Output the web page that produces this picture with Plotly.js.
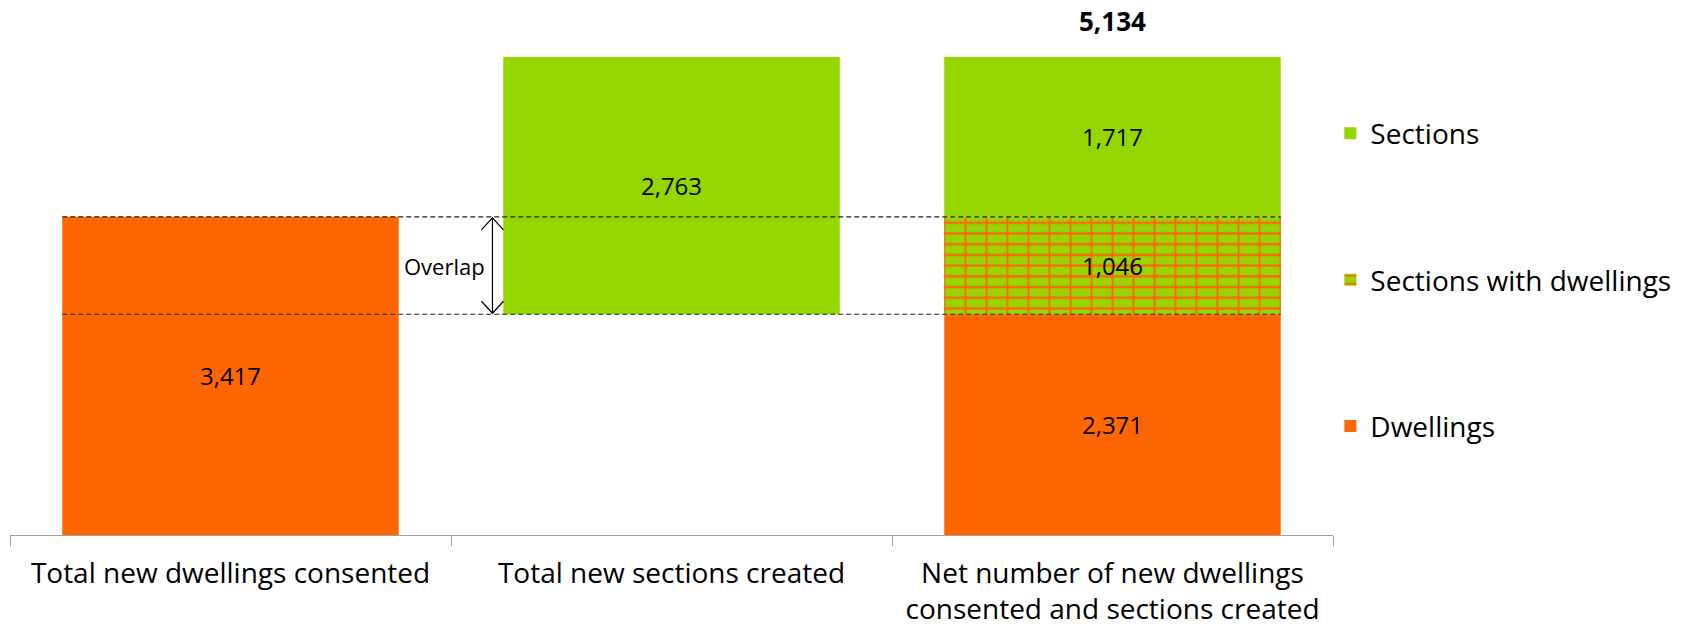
<!DOCTYPE html>
<html>
<head>
<meta charset="utf-8">
<script src="https://cdn.plot.ly/plotly-3.0.1.min.js"></script>
<style>
  html, body { margin: 0; padding: 0; background: #fff; }
  #chart { width: 1687px; height: 627px; }
</style>
</head>
<body>
<div id="chart"></div>
<script>
// ---- data ----
const categories = [
  'Total new dwellings consented',
  'Total new sections created',
  'Net number of new dwellings<br>consented and sections created'
];
const totalDwellings = 3417;
const totalSections = 2763;
const overlap = 1046;
const netDwellings = totalDwellings - overlap;   // 2,371
const netSections = totalSections - overlap;     // 1,717
const netTotal = netDwellings + overlap + netSections; // 5,134

const dwellingsVals = [totalDwellings, null, netDwellings];
const dwellingsBase = [0, null, 0];
const overlapVals = [null, null, overlap];
const overlapBase = [null, null, netDwellings];
const sectionsVals = [null, totalSections, netSections];
const sectionsBase = [null, netDwellings, netDwellings + overlap];

const seriesNames = ['Dwellings', 'Sections with dwellings', 'Sections'];

// ---- style ----
const ORANGE = '#FF6600';
const GREEN = '#96D600';
const FONT = '"Open Sans", Lato, sans-serif';
const half = (1 - 0.237) / 2;
const arrowX = 0.594;

const textStyle = { family: FONT, size: 24, color: '#000' };

const traces = [
  {
    type: 'bar', name: seriesNames[0], x: categories, y: dwellingsVals, base: dwellingsBase,
    marker: { color: ORANGE, line: { width: 0 } },
    texttemplate: '%{y:,}', textposition: 'inside', insidetextanchor: 'middle',
    textfont: textStyle, legendgroup: 'g1', legendrank: 3, hoverinfo: 'skip'
  },
  {
    type: 'bar', name: seriesNames[1], x: categories, y: overlapVals, base: overlapBase,
    marker: { color: GREEN, line: { width: 0 },
      pattern: { shape: '-', fgcolor: ORANGE, bgcolor: GREEN, size: 10.7, solidity: 0.22 } },
    legendgroup: 'g2', legendrank: 2, hoverinfo: 'skip'
  },
  {
    // vertical joints of the brick pattern (same segment, drawn over the rows)
    type: 'bar', name: seriesNames[1], x: categories, y: overlapVals, base: overlapBase,
    marker: { color: 'rgba(0,0,0,0)', line: { width: 0 },
      pattern: { shape: '|', fgcolor: ORANGE, bgcolor: 'rgba(0,0,0,0)', size: 21, solidity: 0.09 } },
    texttemplate: '%{y:,}', textposition: 'inside', insidetextanchor: 'middle',
    textfont: textStyle, legendgroup: 'g2', showlegend: false, hoverinfo: 'skip'
  },
  {
    type: 'bar', name: seriesNames[2], x: categories, y: sectionsVals, base: sectionsBase,
    marker: { color: GREEN, line: { width: 0 } },
    texttemplate: '%{y:,}', textposition: 'inside', insidetextanchor: 'middle',
    textfont: textStyle, legendgroup: 'g3', legendrank: 1, hoverinfo: 'skip'
  }
];

const dash = { color: '#222222', width: 1.2, dash: '5px,3px' };
const arrowLine = { color: '#000', width: 1.2 };

const layout = {
  width: 1687, height: 627,
  margin: { l: 10, r: 354, t: 57, b: 92 },
  paper_bgcolor: '#fff', plot_bgcolor: '#fff',
  barmode: 'overlay', bargap: 0.237,
  showlegend: true,
  legend: {
    x: 0.998, xanchor: 'left', y: 0.892, yanchor: 'top',
    traceorder: 'grouped', tracegroupgap: 107,
    font: { family: FONT, size: 28, color: '#000' },
    bgcolor: 'rgba(0,0,0,0)'
  },
  font: { family: FONT, color: '#000' },
  xaxis: {
    type: 'category',
    showline: true, linecolor: '#A0A0A0', linewidth: 1,
    ticks: 'outside', tickson: 'boundaries', ticklen: 10, tickcolor: '#A0A0A0', tickwidth: 1,
    tickfont: { family: FONT, size: 28, color: '#000' },
    ticklabelstandoff: 13,
    showgrid: false, zeroline: false, fixedrange: true
  },
  yaxis: {
    range: [0, netTotal],
    visible: false, showgrid: false, zeroline: false, fixedrange: true
  },
  shapes: [
    { type: 'line', xref: 'x', yref: 'y', x0: -half, x1: 2 + half, y0: totalDwellings, y1: totalDwellings, line: dash, layer: 'above' },
    { type: 'line', xref: 'x', yref: 'y', x0: -half, x1: 2 + half, y0: netDwellings, y1: netDwellings, line: dash, layer: 'above' },
    // overlap arrow shaft
    { type: 'line', xref: 'x', yref: 'y', x0: arrowX, x1: arrowX, y0: netDwellings + 10, y1: totalDwellings - 10, line: arrowLine, layer: 'above' },
    // arrow heads (open chevrons, pixel-sized, anchored at the dashed lines)
    { type: 'path', xref: 'x', yref: 'y', xsizemode: 'pixel', ysizemode: 'pixel',
      xanchor: arrowX, yanchor: totalDwellings, path: 'M-11,-13 L0,-1 L11,-13', line: arrowLine, layer: 'above' },
    { type: 'path', xref: 'x', yref: 'y', xsizemode: 'pixel', ysizemode: 'pixel',
      xanchor: arrowX, yanchor: netDwellings, path: 'M-11,13 L0,1 L11,13', line: arrowLine, layer: 'above' }
  ],
  annotations: [
    {
      xref: 'x', yref: 'y', x: 0.486, y: (totalDwellings + netDwellings) / 2,
      text: 'Overlap', showarrow: false,
      font: { family: FONT, size: 22, color: '#000' }
    },
    {
      xref: 'x', yref: 'y', x: 2, y: netTotal, yshift: 36,
      text: '<b>' + netTotal.toLocaleString('en-US') + '</b>', showarrow: false,
      font: { family: FONT, size: 26, color: '#000' }
    }
  ]
};

Plotly.newPlot('chart', traces, layout, { displayModeBar: false, staticPlot: true });
</script>
</body>
</html>
